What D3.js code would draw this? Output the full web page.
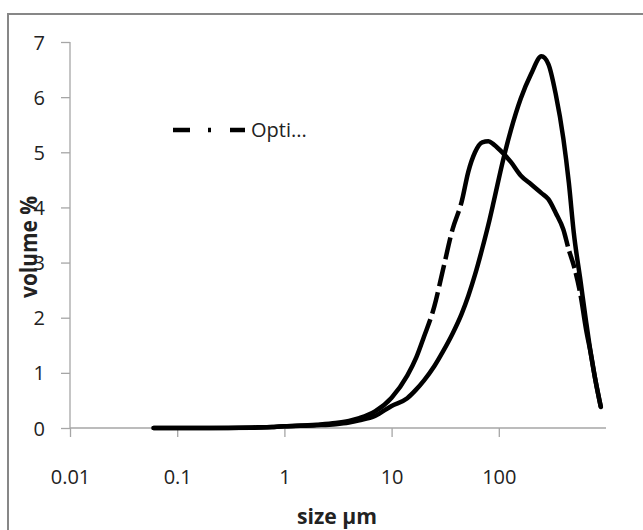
<!DOCTYPE html>
<html><head><meta charset="utf-8">
<script src="https://cdn.jsdelivr.net/npm/d3@7"></script>
<style>
html,body{margin:0;padding:0;background:#fff;overflow:hidden}
svg{display:block}
text{font-family:"Open Sans",sans-serif;fill:#222}
</style></head>
<body>
<svg id="c" width="643" height="530"></svg>
<script>
// ---- data (particle size in µm, volume %) ----
const sizes       = [0.06, 0.1, 0.2, 0.5, 0.8, 1, 2, 3, 4, 5, 7, 10, 14, 17, 20, 25, 30, 37, 45, 52, 60, 70, 80, 90, 110, 130, 160, 200, 250, 290, 340, 400, 450, 500, 580, 650, 720, 800, 895];
const solidSeries = [0, 0, 0, 0.005, 0.02, 0.03, 0.05, 0.07, 0.1, 0.14, 0.22, 0.4, 0.54, 0.7, 0.86, 1.12, 1.38, 1.71, 2.07, 2.4, 2.78, 3.25, 3.69, 4.12, 4.87, 5.41, 5.97, 6.42, 6.74, 6.6, 6.05, 5.25, 4.45, 3.55, 2.65, 1.95, 1.36, 0.85, 0.38];
const optiSeries  = [0, 0, 0, 0.01, 0.02, 0.03, 0.06, 0.09, 0.13, 0.18, 0.3, 0.55, 0.95, 1.28, 1.65, 2.2, 2.85, 3.6, 4.1, 4.65, 5.0, 5.18, 5.2, 5.14, 4.98, 4.82, 4.58, 4.42, 4.26, 4.15, 3.9, 3.6, 3.23, 2.95, 2.4, 1.8, 1.36, 0.85, 0.38];
const legendLabel = "Opti...";
const xTicks      = [0.01, 0.1, 1, 10, 100];
const xTickLabels = ["0.01", "0.1", "1", "10", "100"];
const yTicks      = [0, 1, 2, 3, 4, 5, 6, 7];
const xTitle = "size \u00b5m";
const yTitle = "volume %";

const svg = d3.select("#c");
const axisColor = "#a6a6a6";

// outer chart border (cropped at right/bottom)
svg.append("rect").attr("x", 8).attr("y", 14).attr("width", 700).attr("height", 600)
  .attr("fill", "#fff").attr("stroke", "#878787").attr("stroke-width", 2);

const x = d3.scaleLog().domain([0.01, 1000]).range([70, 606]);
const y = d3.scaleLinear().domain([0, 7]).range([428, 42]);

// y axis
const gy = svg.append("g").attr("transform", "translate(70,0)")
  .call(d3.axisLeft(y).tickValues(yTicks).tickSize(9).tickPadding(16).tickFormat(d3.format("d")));
gy.select(".domain").attr("stroke", axisColor).attr("stroke-width", 1.3).attr("d", "M0," + y(7) + "V" + y(0));
gy.selectAll(".tick line").attr("stroke", axisColor).attr("stroke-width", 1.3);
gy.selectAll(".tick text").attr("font-size", 20).attr("font-family", "Open Sans").attr("fill", "#222").attr("dy", "0.35em");

// x axis
const gx = svg.append("g").attr("transform", "translate(0," + y(0) + ")")
  .call(d3.axisBottom(x).tickValues(xTicks).tickSize(9).tickPadding(33)
    .tickFormat((d, i) => xTickLabels[i]));
gx.select(".domain").attr("stroke", axisColor).attr("stroke-width", 1.3).attr("d", "M70,0H606");
gx.selectAll(".tick line").attr("stroke", axisColor).attr("stroke-width", 1.3);
gx.selectAll(".tick text").attr("font-size", 20).attr("font-family", "Open Sans").attr("fill", "#222");

// series
const data = (vals) => sizes.map((s, i) => [s, vals[i]]);
const line = d3.line().x(d => x(d[0])).y(d => y(d[1])).curve(d3.curveMonotoneX);

svg.append("path").datum(data(solidSeries)).attr("d", line)
  .attr("fill", "none").attr("stroke", "#000").attr("stroke-width", 4.5)
  .attr("stroke-linecap", "round").attr("stroke-linejoin", "round");

const opti = svg.append("path").datum(data(optiSeries)).attr("d", line)
  .attr("fill", "none").attr("stroke", "#000").attr("stroke-width", 4.5)
  .attr("stroke-linecap", "butt").attr("stroke-linejoin", "round");

// dash pattern that appears only on the steep flanks of the Opti curve
(function () {
  const node = opti.node();
  const total = node.getTotalLength();
  function lenAtX(px) {
    let lo = 0, hi = total;
    for (let k = 0; k < 40; k++) {
      const mid = (lo + hi) / 2;
      if (node.getPointAtLength(mid).x < px) lo = mid; else hi = mid;
    }
    return lo;
  }
  const zones = [[lenAtX(x(23)), lenAtX(x(49)), 22, 6], [lenAtX(x(440)), lenAtX(x(665)), 18, 5]];
  const arr = [];
  let pos = 0, cur = 0;
  zones.forEach(([a, b, dash, gap]) => {
    cur += a - pos; pos = a;
    while (pos + gap + dash < b) {
      arr.push(cur, gap); pos += gap; cur = dash; pos += dash;
    }
  });
  cur += total - pos;
  arr.push(cur + 10, 0);
  opti.attr("stroke-dasharray", arr.join(","));
})();

// legend
const lg = svg.append("g");
lg.append("line").attr("x1", x(0.01) + 103).attr("x2", x(0.01) + 175)
  .attr("y1", 130).attr("y2", 130).attr("stroke", "#000").attr("stroke-width", 4.5)
  .attr("stroke-dasharray", "17,18,3,19,15");
lg.append("text").attr("x", 251).attr("y", 130).attr("dy", "0.35em")
  .attr("font-size", 20).text(legendLabel);

// axis titles
svg.append("text").attr("x", 337).attr("y", 524).attr("text-anchor", "middle")
  .attr("font-size", 22).attr("font-weight", "bold").attr("textLength", 80)
  .attr("lengthAdjust", "spacingAndGlyphs").text(xTitle);
svg.append("text").attr("transform", "translate(37,247) rotate(-90)")
  .attr("text-anchor", "middle").attr("font-size", 23).attr("font-weight", "bold")
  .attr("textLength", 102).attr("lengthAdjust", "spacingAndGlyphs").text(yTitle);
</script>
</body></html>
